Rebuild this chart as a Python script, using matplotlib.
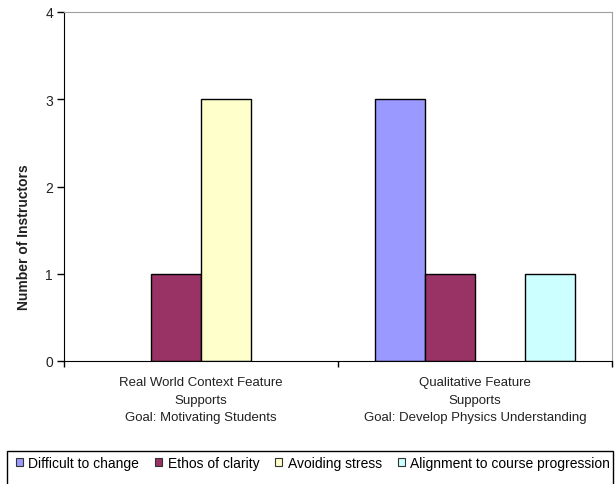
import numpy as np
import matplotlib.pyplot as plt
from matplotlib.patches import Rectangle

plt.rcParams['font.family'] = ['Liberation Sans', 'DejaVu Sans']

# Datos
categorias = ['Real World Context Feature\nSupports\nGoal: Motivating Students',
              'Qualitative Feature\nSupports\nGoal: Develop Physics Understanding']
series = ['Difficult to change', 'Ethos of clarity', 'Avoiding stress',
          'Alignment to course progression']
valores = [[0, 3],   # Difficult to change
           [1, 1],   # Ethos of clarity
           [3, 0],   # Avoiding stress
           [0, 1]]   # Alignment to course progression
colores = ['#9999FF', '#993366', '#FFFFCC', '#CCFFFF']

fig = plt.figure(figsize=(6.16, 4.85), dpi=100)
ax = fig.add_axes([64/616, 1 - 362/485, (612 - 64)/616, (362 - 13)/485])

centros = np.arange(len(categorias)) + 0.5
ancho = 1 / 5.5
for i, (nombre, vals) in enumerate(zip(series, valores)):
    vals = np.array(vals, dtype=float)
    x = centros + (i - 1.5) * ancho
    # las barras en cero no se dibujan
    mask = vals > 0
    ax.bar(x[mask], vals[mask], width=ancho, color=colores[i],
           edgecolor='black', linewidth=1, zorder=2)
    ax.bar([np.nan], [0], color=colores[i], edgecolor='#333333', linewidth=0.8,
           label=nombre)

ax.set_xlim(0, 2)
ax.set_ylim(0, 4)
ax.set_yticks([0, 1, 2, 3, 4])
ax.set_xticks([0, 1, 2])
ax.set_xticklabels([])
ax.tick_params(axis='y', direction='out', length=5, width=1, labelsize=10,
               pad=3, labelcolor='#222222')
ax.tick_params(axis='x', direction='out', length=4, width=1)
for c, txt in zip(centros, categorias):
    ax.text(c, -0.175, txt, ha='center', va='top', fontsize=9.5,
            linespacing=1.6, color='#222222')

ax.spines['left'].set_color('black')
ax.spines['bottom'].set_color('black')
ax.spines['top'].set_color('#a0a0a0')
ax.spines['right'].set_color('#a0a0a0')

# titulo del eje y, algo mas abajo del centro
fig.text(24/616, 1 - 237/485, 'Number of Instructors', rotation=90,
         ha='center', va='center', fontsize=10, fontweight='bold', color='#222222')

# Leyenda abajo
fig.patches.append(Rectangle((7/616, -0.05), 606/616, 0.05 + (485 - 452)/485,
                             transform=fig.transFigure, fill=False,
                             edgecolor='black', linewidth=1))
fig.legend(loc='upper left', bbox_to_anchor=(13/616, 1 - 454/485), ncol=4,
           frameon=False, fontsize=10, handlelength=0.5, handleheight=0.5,
           handletextpad=0.4, columnspacing=1.15, borderaxespad=0, borderpad=0.2)

plt.savefig('out.png', dpi=100)
